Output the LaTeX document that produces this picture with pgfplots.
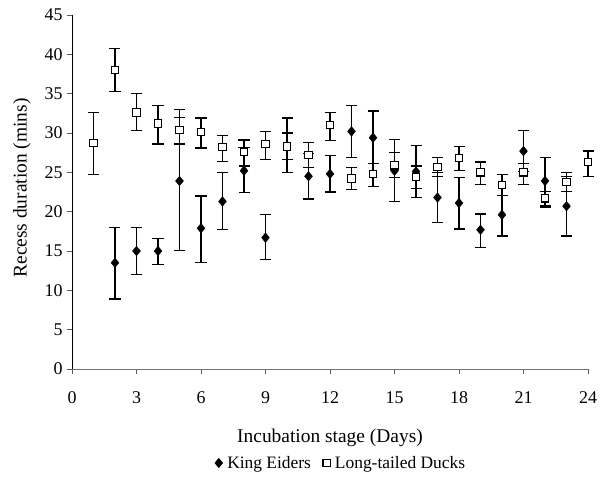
\documentclass[border=0pt]{standalone}
\usepackage{fontspec}
\setmainfont{Liberation Serif}
\usepackage{pgfplots}
\usepackage{pgfplotstable}
\pgfplotsset{compat=1.18}
\pgfplotstableread{
x y ep em
2 13.5 4.5 4.6
3 15.0 3.0 3.0
4 15.0 1.6 1.7
5 23.9 9.1 8.8
6 17.9 4.1 4.4
7 21.3 3.7 3.6
8 25.2 3.0 2.8
9 16.7 2.9 2.8
10 28.4 3.5 3.4
11 24.5 2.9 2.9
12 24.8 2.3 2.3
13 30.2 3.3 3.3
14 29.4 3.4 3.3
15 25.2 4.0 3.9
16 25.1 3.3 3.3
17 21.8 3.2 3.2
18 21.1 3.2 3.3
19 17.7 2.0 2.3
20 19.6 2.5 2.7
21 27.7 2.6 2.6
22 23.9 3.0 3.1
23 20.7 3.8 3.8
}\ke
\pgfplotstableread{
x y ep em
1 28.7 3.9 4.0
2 38.0 2.7 2.7
3 32.6 2.4 2.3
4 31.2 2.3 2.6
5 30.4 1.6 1.8
6 30.1 1.8 2.0
7 28.2 1.5 1.8
8 27.6 1.5 1.8
9 28.6 1.6 2.0
10 28.3 1.7 1.7
11 27.2 1.6 1.6
12 31.0 1.6 2.0
13 24.2 1.4 1.4
14 24.8 1.3 1.6
15 25.9 1.6 1.6
16 24.4 1.4 1.5
17 25.7 1.2 1.2
18 26.8 1.5 1.6
19 25.0 1.3 1.5
20 23.4 1.3 1.3
21 25.0 1.1 1.5
22 21.7 0.9 1.1
23 23.8 1.2 1.2
24 26.3 1.4 1.8
}\ltd
\begin{document}
\begin{tikzpicture}
\path[use as bounding box] (-72bp,-116bp) rectangle (529bp,369bp);
\begin{axis}[
  at={(0,0)}, anchor=south west,
  scale only axis, width=516bp, height=354bp,
  xmin=0, xmax=24, ymin=0, ymax=45,
  xtick={0,3,...,24}, ytick={0,5,...,45},
  axis x line*=bottom, axis y line*=left,
  x axis line style={black!55, line width=0.9pt},
  y axis line style={black, line width=0.8pt},
  tick align=outside, major tick length=5bp,
  tick style={black!65, line width=0.8pt},
  /pgf/number format/assume math mode=true,
  ticklabel style={font=\fontsize{18}{18}\selectfont},
  xticklabel style={yshift=-14bp},
  yticklabel style={xshift=-1bp},
  xlabel={Incubation stage (Days)},
  ylabel={Recess duration (mins)},
  label style={font=\fontsize{19.5}{19.5}\selectfont},
  xlabel style={at={(axis description cs:0.5,0)}, anchor=center, yshift=-69bp},
  ylabel style={at={(axis description cs:0,0.5)}, anchor=center, yshift=50bp, xshift=4bp},
  clip=false,
  legend columns=2,
  legend style={draw=none, at={(269bp,-94bp)}, anchor=center,
    font=\fontsize{17.5}{17.5}\selectfont,
    /tikz/every odd column/.append style={column sep=2.5bp},
    /tikz/every even column/.append style={column sep=10bp}},
  legend cell align=left,
  error bars/y dir=both, error bars/y explicit,
  error bars/error bar style={black, line width=1.25pt},
  error bars/error mark options={rotate=90, mark size=5.5bp, line width=1.25pt, black},
]
\addplot[only marks, mark=diamond*, mark size=4.8bp, mark options={fill=black, draw=black, xscale=1.1}]
  table[x=x, y=y, y error plus=ep, y error minus=em] {\ke};
\addlegendentry{King Eiders}
\addplot[only marks, mark=square*, mark size=3.7bp, mark options={fill=white, draw=black, line width=1.1pt}]
  table[x=x, y=y, y error plus=ep, y error minus=em] {\ltd};
\addlegendentry{Long-tailed Ducks}
\end{axis}
\end{tikzpicture}
\end{document}
